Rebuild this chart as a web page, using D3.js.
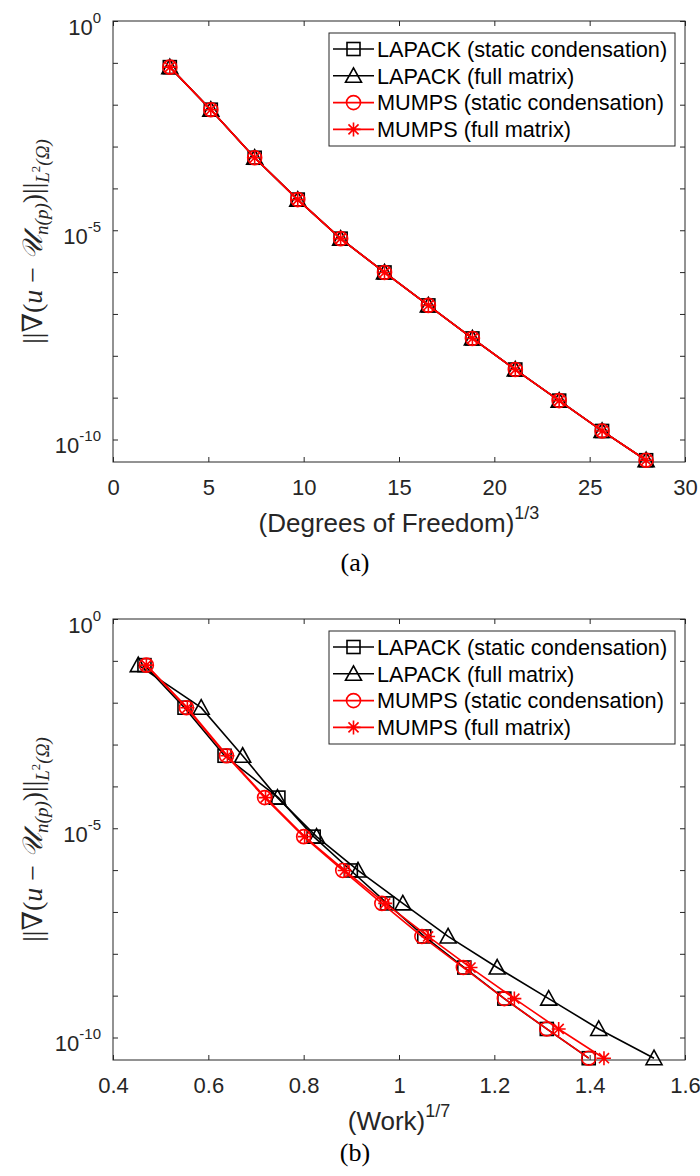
<!DOCTYPE html>
<html>
<head>
<meta charset="utf-8">
<script src="https://cdn.jsdelivr.net/npm/d3@7"></script>
<style>
  body { margin: 0; background: #fff; }
  svg { display: block; }
</style>
</head>
<body>
<div id="chart"></div>
<script>
// data
var dofX = [2.98, 5.13, 7.43, 9.69, 11.94, 14.24, 16.54, 18.85, 21.1, 23.4, 25.65, 27.96];
var errVals = [7.9e-2, 7.6e-3, 5.4e-4, 5.4e-5, 6.3e-6, 9.8e-7, 1.6e-7, 2.6e-8, 4.7e-9, 8.5e-10, 1.6e-10, 3.2e-11];

var workLapackSC   = [0.466, 0.550, 0.634, 0.747, 0.821, 0.899, 0.975, 1.053, 1.137, 1.221, 1.310, 1.398];
var workLapackFull = [0.453, 0.585, 0.672, 0.745, 0.827, 0.914, 1.008, 1.103, 1.206, 1.314, 1.419, 1.535];
var workMumpsSC    = [0.470, 0.554, 0.638, 0.718, 0.800, 0.882, 0.964, 1.048, 1.135, 1.221, 1.310, 1.398];
var workMumpsFull  = [0.470, 0.556, 0.640, 0.720, 0.802, 0.886, 0.971, 1.061, 1.150, 1.242, 1.335, 1.430];

var seriesNames = ["LAPACK (static condensation)", "LAPACK (full matrix)",
                   "MUMPS (static condensation)", "MUMPS (full matrix)"];
var seriesColors = ["#000000", "#000000", "#ff0000", "#ff0000"];
var seriesMarkers = ["square", "triangle", "circle", "asterisk"];

var xTicksA = [0, 5, 10, 15, 20, 25, 30];
var xTicksB = [0.4, 0.6, 0.8, 1, 1.2, 1.4, 1.6];
var yTicks = [1e0, 1e-1, 1e-2, 1e-3, 1e-4, 1e-5, 1e-6, 1e-7, 1e-8, 1e-9, 1e-10];
var yLabelExps = [0, -5, -10];

var svgWidth = 700, svgHeight = 1176;
var left = 113, right = 685, plotH = 441;
var axisColor = "#262626";
var sans = "'Liberation Sans', Arial, sans-serif";
var serif = "'Liberation Serif', 'DejaVu Serif', serif";

var svg = d3.select("#chart").append("svg")
  .attr("width", svgWidth)
  .attr("height", svgHeight);

svg.append("rect").attr("width", svgWidth).attr("height", svgHeight).attr("fill", "#fff");

function drawMarker(g, type, x, y, color) {
  if (type == "square") {
    g.append("rect").attr("x", x - 6.5).attr("y", y - 6.5).attr("width", 13).attr("height", 13)
      .attr("fill", "none").attr("stroke", color).attr("stroke-width", 1.6);
  } else if (type == "triangle") {
    g.append("path").attr("d", "M" + x + "," + (y - 8) + "L" + (x + 8) + "," + (y + 6.5) + "L" + (x - 8) + "," + (y + 6.5) + "Z")
      .attr("fill", "none").attr("stroke", color).attr("stroke-width", 1.6);
  } else if (type == "circle") {
    g.append("circle").attr("cx", x).attr("cy", y).attr("r", 7)
      .attr("fill", "none").attr("stroke", color).attr("stroke-width", 1.6);
  } else {
    var r = 7, d = r * 0.72;
    g.append("path")
      .attr("d", "M" + (x - r) + "," + y + "H" + (x + r) + "M" + x + "," + (y - r) + "V" + (y + r) +
        "M" + (x - d) + "," + (y - d) + "L" + (x + d) + "," + (y + d) +
        "M" + (x - d) + "," + (y + d) + "L" + (x + d) + "," + (y - d))
      .attr("stroke", color).attr("stroke-width", 1.6);
  }
}

function drawPanel(opt) {
  var top = opt.top, bottom = top + plotH;
  var x = d3.scaleLinear().domain(opt.xDomain).range([left, right]);
  var y = d3.scaleLog().domain([2.9e-11, 1]).range([bottom, top]);
  var g = svg.append("g");

  // axes with inward ticks, box on
  var fmt = function(d) { return String(+d.toFixed(1)); };
  var xAxis = g.append("g").attr("transform", "translate(0," + bottom + ")")
    .call(d3.axisBottom(x).tickValues(opt.xTicks).tickSizeInner(-5).tickSizeOuter(0).tickPadding(17).tickFormat(fmt));
  g.append("g").attr("transform", "translate(0," + top + ")")
    .call(d3.axisTop(x).tickValues(opt.xTicks).tickSizeInner(-5).tickSizeOuter(0).tickFormat(""));
  g.append("g").attr("transform", "translate(" + left + ",0)")
    .call(d3.axisLeft(y).tickValues(yTicks).tickSizeInner(-5).tickSizeOuter(0).tickFormat(""));
  g.append("g").attr("transform", "translate(" + right + ",0)")
    .call(d3.axisRight(y).tickValues(yTicks).tickSizeInner(-5).tickSizeOuter(0).tickFormat(""));
  g.selectAll(".domain").remove();
  g.selectAll(".tick line").attr("stroke", axisColor);
  g.append("rect").attr("x", left).attr("y", top).attr("width", right - left).attr("height", plotH)
    .attr("fill", "none").attr("stroke", axisColor).attr("stroke-width", 1);

  xAxis.selectAll("text").attr("font-family", sans).attr("font-size", 22).attr("fill", axisColor);

  // y tick labels 10^k
  yLabelExps.forEach(function(k) {
    var t = g.append("text").attr("x", left - 12).attr("y", y(Math.pow(10, k)) + 13.5)
      .attr("text-anchor", "end").attr("font-family", sans).attr("fill", axisColor);
    t.append("tspan").attr("font-size", 22).text("10");
    t.append("tspan").attr("font-size", 15).attr("dy", -12).text(k);
  });

  // x label
  var xl = g.append("text").attr("x", (left + right) / 2).attr("y", bottom + 70)
    .attr("text-anchor", "middle").attr("font-family", sans).attr("fill", axisColor);
  xl.append("tspan").attr("font-size", 26).text(opt.xLabel);
  xl.append("tspan").attr("font-size", 18).attr("dy", -13).text(opt.xSup);

  // y label (math)
  var yl = g.append("text")
    .attr("transform", "translate(42," + (top + plotH / 2) + ") rotate(-90)")
    .attr("text-anchor", "middle").attr("font-family", serif).attr("font-size", 28).attr("fill", axisColor);
  yl.append("tspan").text("||\u2207(");
  yl.append("tspan").attr("font-style", "italic").text("u");
  yl.append("tspan").text(" \u2212 ");
  yl.append("tspan").attr("font-style", "italic").text("\ud835\udcb0");
  yl.append("tspan").attr("font-style", "italic").attr("font-size", 19).attr("dy", 6).text("n(p)");
  yl.append("tspan").attr("dy", -6).text(")||");
  yl.append("tspan").attr("font-style", "italic").attr("font-size", 19).attr("dy", 7).text("L");
  yl.append("tspan").attr("font-size", 13).attr("dy", -9).text("2");
  yl.append("tspan").attr("font-style", "italic").attr("font-size", 19).attr("dy", 9).text("(\u03a9)");

  // caption
  g.append("text").attr("x", 355).attr("y", opt.captionY).attr("text-anchor", "middle")
    .attr("font-family", serif).attr("font-size", 26).attr("fill", "#000").text(opt.caption);

  // series
  opt.xs.forEach(function(xs, i) {
    var pts = xs.map(function(v, j) { return [x(v), y(errVals[j])]; });
    g.append("path").attr("d", d3.line()(pts))
      .attr("fill", "none").attr("stroke", seriesColors[i]).attr("stroke-width", 1.6);
    pts.forEach(function(p) { drawMarker(g, seriesMarkers[i], p[0], p[1], seriesColors[i]); });
  });

  // legend
  var lg = g.append("g");
  lg.append("rect").attr("x", 329).attr("y", top + 12).attr("width", 346).attr("height", 113)
    .attr("fill", "#fff").attr("stroke", axisColor).attr("stroke-width", 1);
  seriesNames.forEach(function(name, i) {
    var ly = top + 28 + i * 26.8;
    lg.append("line").attr("x1", 333).attr("x2", 374).attr("y1", ly).attr("y2", ly)
      .attr("stroke", seriesColors[i]).attr("stroke-width", 1.6);
    drawMarker(lg, seriesMarkers[i], 353.5, ly, seriesColors[i]);
    lg.append("text").attr("x", 377).attr("y", ly + 7.8).attr("font-family", sans)
      .attr("font-size", 21.7).attr("fill", "#000").text(name);
  });
}

drawPanel({
  top: 21, xDomain: [0, 30], xTicks: xTicksA,
  xs: [dofX, dofX, dofX, dofX],
  xLabel: "(Degrees of Freedom)", xSup: "1/3",
  caption: "(a)", captionY: 571
});

drawPanel({
  top: 619, xDomain: [0.4, 1.6], xTicks: xTicksB,
  xs: [workLapackSC, workLapackFull, workMumpsSC, workMumpsFull],
  xLabel: "(Work)", xSup: "1/7",
  caption: "(b)", captionY: 1161
});
</script>
</body>
</html>
